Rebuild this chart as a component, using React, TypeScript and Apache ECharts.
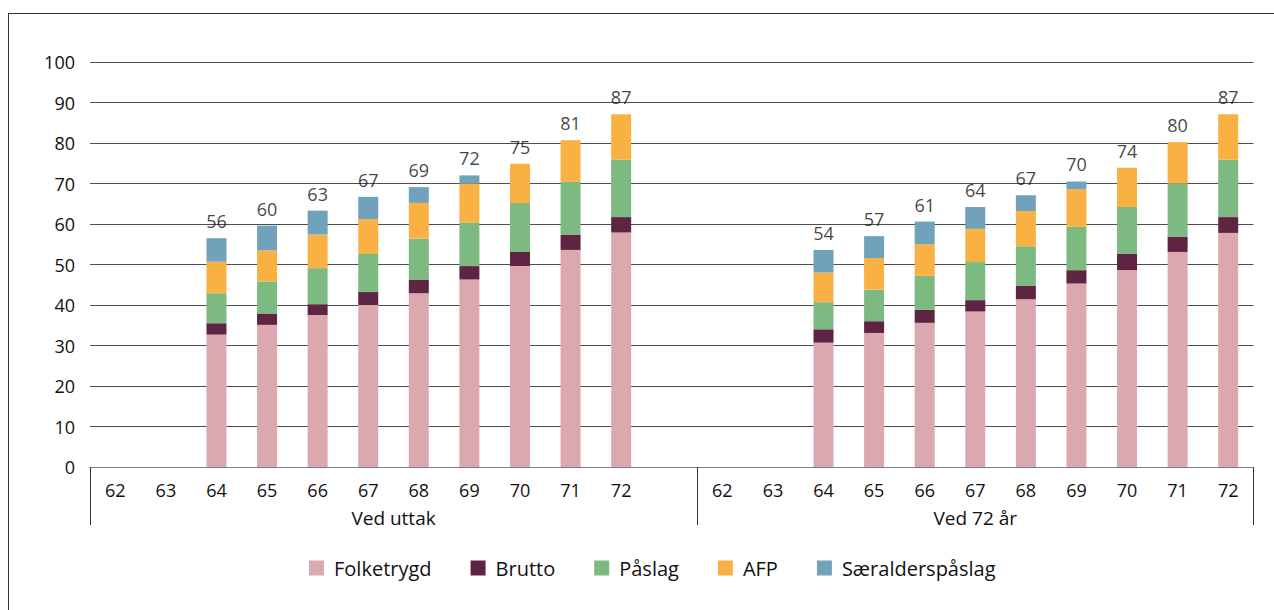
import React, { useEffect, useRef } from "react";
import * as echarts from "echarts";

// Categories: ages for each group (a blank slot separates the two groups)
const ages = ["62", "63", "64", "65", "66", "67", "68", "69", "70", "71", "72"];
const groupNames = ["Ved uttak", "Ved 72 år"];

// Values for ages 64..72 (62 and 63 have no bars)
const folketrygdUttak = [32.7, 35.1, 37.5, 40.0, 42.9, 46.3, 49.6, 53.6, 57.9];
const folketrygd72 = [30.7, 33.1, 35.6, 38.4, 41.4, 45.3, 48.6, 53.1, 57.8];
const bruttoUttak = [2.8, 2.8, 2.7, 3.2, 3.4, 3.3, 3.5, 3.8, 3.8];
const brutto72 = [3.3, 2.9, 3.2, 2.8, 3.3, 3.3, 4.0, 3.8, 3.9];
const paslagUttak = [7.4, 7.9, 8.9, 9.4, 10.1, 10.7, 12.1, 13.0, 14.2];
const paslag72 = [6.7, 7.8, 8.4, 9.4, 9.8, 10.7, 11.6, 13.1, 14.2];
const afpUttak = [7.8, 7.7, 8.3, 8.6, 8.8, 9.7, 9.7, 10.3, 11.2];
const afp72 = [7.3, 7.8, 7.8, 8.2, 8.7, 9.3, 9.7, 10.2, 11.2];
const saerUttak = [5.8, 6.1, 5.9, 5.5, 3.9, 2.0, null, null, null];
const saer72 = [5.6, 5.4, 5.6, 5.4, 3.9, 1.9, null, null, null];

// Total labels shown above the bars
const totalsUttak = [56, 60, 63, 67, 69, 72, 75, 81, 87];
const totals72 = [54, 57, 61, 64, 67, 70, 74, 80, 87];

const seriesNames = ["Folketrygd", "Brutto", "Påslag", "AFP", "Særalderspåslag"];
const colors = ["#dca8b0", "#5f2441", "#7cba81", "#f8b142", "#71a2bc"];

const yTicks = { min: 0, max: 100, interval: 10 };

const FONT = "Open Sans";

function combine(a: (number | null)[], b: (number | null)[]) {
  return [null, null, ...a, null, null, null, ...b];
}

export default function App() {
  const ref = useRef<HTMLDivElement>(null);

  useEffect(() => {
    document.body.style.margin = "0";
    if (!ref.current) return;
    const chart = echarts.init(ref.current, undefined, { renderer: "svg" });

    const categories = [...ages, "", ...ages];
    const segData = [
      combine(folketrygdUttak, folketrygd72),
      combine(bruttoUttak, brutto72),
      combine(paslagUttak, paslag72),
      combine(afpUttak, afp72),
      combine(saerUttak, saer72),
    ];
    const labelData = combine(totalsUttak, totals72);
    const stackTop = categories.map((_, i) => {
      if (labelData[i] == null) return null;
      let s = 0;
      segData.forEach((d) => (s += (d[i] as number) || 0));
      return s;
    });
    const groupCenter1 = (ages.length + 1) / 2; // center of first group (12 slots)
    const groupCenter2 = ages.length + 1 + ages.length / 2;

    const option: any = {
      animation: false,
      textStyle: { fontFamily: FONT },
      grid: { left: 90, right: 20.5, top: 62, bottom: 143, containLabel: false },
      legend: {
        data: seriesNames,
        left: 309,
        top: 558,
        padding: 0,
        itemWidth: 15,
        itemHeight: 15,
        itemGap: 39,
        icon: "rect",
        textStyle: { fontFamily: FONT, fontSize: 20, color: "#111", padding: [0, 0, 0, 5] },
      },
      xAxis: [
        {
          type: "category",
          data: categories,
          position: "bottom",
          axisLine: { show: true, lineStyle: { color: "#808080", width: 1.2 } },
          axisTick: {
            show: true,
            length: 58,
            interval: (i: number) => i === 0 || i === ages.length + 1,
            lineStyle: { color: "#333", width: 1 },
          },
          axisLabel: { interval: 0, fontSize: 18, color: "#111", margin: 14, fontFamily: FONT },
          splitLine: { show: false },
        },
        {
          type: "value",
          position: "bottom",
          min: 0,
          max: categories.length,
          interval: 0.5,
          axisLine: { show: false },
          axisTick: { show: false },
          splitLine: { show: false },
          axisLabel: {
            margin: 41,
            fontSize: 19,
            color: "#111",
            fontFamily: FONT,
            showMinLabel: true,
            showMaxLabel: true,
            formatter: (v: number) =>
              v === groupCenter1 ? groupNames[0] : v === groupCenter2 ? groupNames[1] : "",
          },
        },
      ],
      yAxis: {
        type: "value",
        min: yTicks.min,
        max: yTicks.max,
        interval: yTicks.interval,
        axisLine: { show: false },
        axisTick: { show: false },
        axisLabel: { fontSize: 18, color: "#111", margin: 15, fontFamily: FONT },
        splitLine: { lineStyle: { color: "#4d4d4d", width: 1 } },
      },
      series: [
        ...seriesNames.map((name, k) => ({
          name,
          type: "bar",
          stack: "total",
          xAxisIndex: 0,
          barWidth: 20,
          itemStyle: { color: colors[k] },
          data: segData[k],
        })),
        {
          name: "Totalt",
          type: "scatter",
          xAxisIndex: 0,
          symbolSize: 0,
          itemStyle: { color: "transparent" },
          data: stackTop,
          label: {
            show: true,
            position: "top",
            distance: 8,
            fontSize: 18,
            color: "#111",
            fontFamily: FONT,
            formatter: (p: any) => (labelData[p.dataIndex] == null ? "" : String(labelData[p.dataIndex])),
          },
          z: 5,
        },
      ],
    };

    chart.setOption(option);
    return () => chart.dispose();
  }, []);

  return (
    <div style={{ position: "relative", width: 1274, height: 610, overflow: "hidden" }}>
      <div ref={ref} style={{ position: "absolute", left: 0, top: 0, width: 1274, height: 610 }} />
      <div
        style={{
          position: "absolute",
          left: 8,
          top: 13,
          right: 0,
          bottom: 0,
          borderTop: "1.5px solid #333",
          borderLeft: "1.5px solid #333",
          pointerEvents: "none",
        }}
      />
    </div>
  );
}
